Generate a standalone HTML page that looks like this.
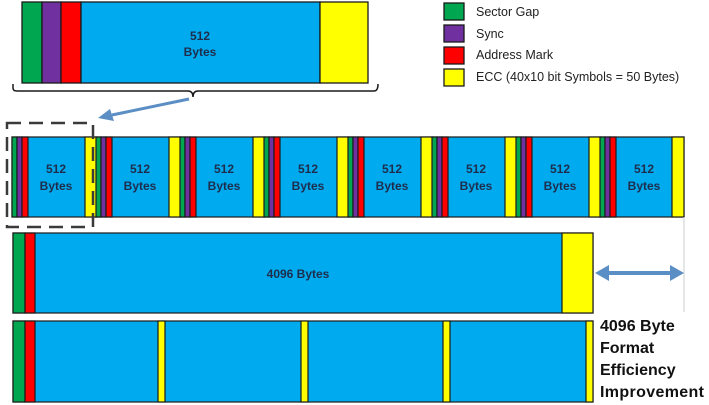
<!DOCTYPE html>
<html><head><style>body{margin:0;background:#fff}svg{display:block}</style></head><body>
<svg width="709" height="405" xmlns="http://www.w3.org/2000/svg" font-family="Liberation Sans, sans-serif">
<g stroke="#1a1a1a" stroke-width="1.3">
<rect x="22" y="2" width="20" height="81" fill="#00a650"/>
<rect x="42" y="2" width="19" height="81" fill="#7030a0"/>
<rect x="61" y="2" width="20" height="81" fill="#ff0000"/>
<rect x="81" y="2" width="239" height="81" fill="#00aaee"/>
<rect x="320" y="2" width="48" height="81" fill="#ffff00"/>
</g>
<path d="M13,84 L13,88 Q13,91 17,91 L188,91 Q193,91 193,97 Q193,91 198,91 L374,91 Q378,91 378,84" fill="none" stroke="#1a1a1a" stroke-width="1.5"/>
<line x1="189" y1="99" x2="112" y2="115" stroke="#5b8ec4" stroke-width="3"/>
<path d="M98,118 L110,109 L114,121 z" fill="#5b8ec4"/>
<text x="200" y="40" font-size="12" font-weight="bold" fill="#1f2d4d" text-anchor="middle">512</text>
<text x="200" y="56" font-size="12" font-weight="bold" fill="#1f2d4d" text-anchor="middle">Bytes</text>
<g stroke="#1a1a1a" stroke-width="1.3">
<rect x="444" y="3" width="20" height="17" fill="#00a650"/>
<rect x="444" y="25" width="20" height="17" fill="#7030a0"/>
<rect x="444" y="47" width="20" height="17" fill="#ff0000"/>
<rect x="444" y="69" width="20" height="17" fill="#ffff00"/>
</g>
<g font-size="12.5" fill="#222">
<text x="476" y="16">Sector Gap</text>
<text x="476" y="38">Sync</text>
<text x="476" y="59">Address Mark</text>
<text x="476" y="81">ECC (40x10 bit Symbols = 50 Bytes)</text>
</g>
<g stroke="#1a1a1a" stroke-width="1.2">
<rect x="12" y="137" width="672" height="80" fill="#00aaee"/>
<g id="s">
<rect x="12" y="137" width="5" height="80" fill="#00a650"/>
<rect x="17" y="137" width="5" height="80" fill="#7030a0"/>
<rect x="22" y="137" width="6" height="80" fill="#ff0000"/>
<rect x="85" y="137" width="12" height="80" fill="#ffff00"/>
</g>
<use href="#s" x="84"/><use href="#s" x="168"/><use href="#s" x="252"/><use href="#s" x="336"/><use href="#s" x="420"/><use href="#s" x="504"/>
<rect x="600" y="137" width="5" height="80" fill="#00a650"/>
<rect x="605" y="137" width="5" height="80" fill="#7030a0"/>
<rect x="610" y="137" width="6" height="80" fill="#ff0000"/>
<rect x="672" y="137" width="12" height="80" fill="#ffff00"/>
</g>
<g font-size="12" font-weight="bold" fill="#1f2d4d" text-anchor="middle">
<text x="56" y="173">512</text><text x="56" y="190">Bytes</text>
<text x="140" y="173">512</text><text x="140" y="190">Bytes</text>
<text x="224" y="173">512</text><text x="224" y="190">Bytes</text>
<text x="308" y="173">512</text><text x="308" y="190">Bytes</text>
<text x="392" y="173">512</text><text x="392" y="190">Bytes</text>
<text x="476" y="173">512</text><text x="476" y="190">Bytes</text>
<text x="560" y="173">512</text><text x="560" y="190">Bytes</text>
<text x="644" y="173">512</text><text x="644" y="190">Bytes</text>
</g>
<rect x="7" y="123" width="86" height="104" fill="none" stroke="#3a3a3a" stroke-width="2.5" stroke-dasharray="14,8"/>
<g stroke="#1a1a1a" stroke-width="1.2">
<rect x="13" y="233" width="580" height="80" fill="#00aaee"/>
<rect x="13" y="233" width="12" height="80" fill="#00a650"/>
<rect x="25" y="233" width="10" height="80" fill="#ff0000"/>
<rect x="562" y="233" width="31" height="80" fill="#ffff00"/>
</g>
<text x="298" y="278" font-size="12" font-weight="bold" fill="#1f2d4d" text-anchor="middle">4096 Bytes</text>
<line x1="684" y1="217" x2="684" y2="312" stroke="#c8ccd0" stroke-width="1"/>
<line x1="602" y1="273" x2="676" y2="273" stroke="#5b8ec4" stroke-width="4"/>
<path d="M595,273 L609,265 L609,281 z M684,273 L670,265 L670,281 z" fill="#5b8ec4"/>
<g stroke="#1a1a1a" stroke-width="1.2">
<rect x="13" y="321" width="580" height="81" fill="#00aaee"/>
<rect x="13" y="321" width="12" height="81" fill="#00a650"/>
<rect x="25" y="321" width="10" height="81" fill="#ff0000"/>
<rect x="158" y="321" width="7" height="81" fill="#ffff00"/>
<rect x="301" y="321" width="7" height="81" fill="#ffff00"/>
<rect x="443" y="321" width="7" height="81" fill="#ffff00"/>
<rect x="586" y="321" width="7" height="81" fill="#ffff00"/>
</g>
<g font-size="16" font-weight="bold" fill="#111">
<text x="600" y="331">4096 Byte</text>
<text x="600" y="353">Format</text>
<text x="600" y="375">Efficiency</text>
<text x="600" y="397" textLength="104">Improvement</text>
</g>
</svg>
</body></html>
